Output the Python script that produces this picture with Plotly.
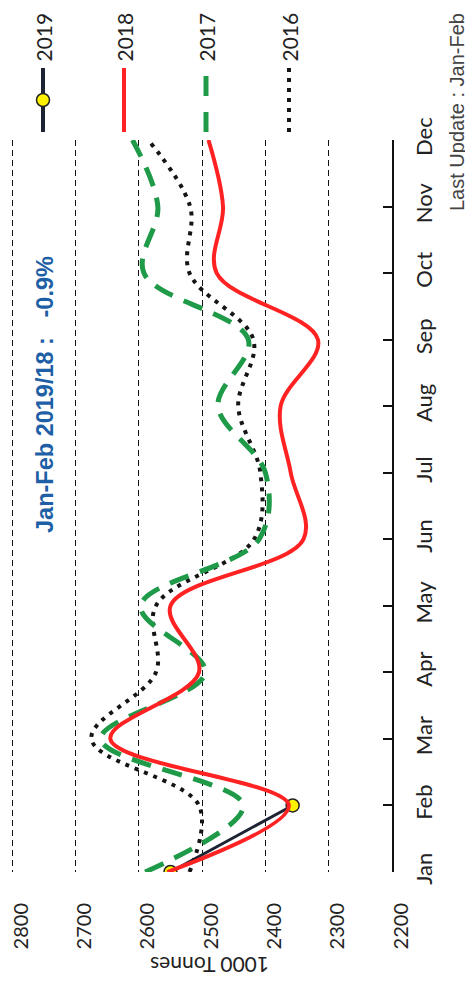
import plotly.graph_objects as go

# ---------------- data ----------------
months = ["Jan", "Feb", "Mar", "Apr", "May", "Jun",
          "Jul", "Aug", "Sep", "Oct", "Nov", "Dec"]
val_2019 = [2550, 2357]
val_2018 = [2555, 2363, 2645, 2505, 2550, 2340, 2360, 2376, 2317, 2477, 2467, 2490]
val_2017 = [2590, 2435, 2660, 2495, 2597, 2410, 2400, 2475, 2427, 2592, 2570, 2610]
val_2016 = [2520, 2505, 2675, 2573, 2573, 2418, 2408, 2443, 2419, 2520, 2519, 2585]
value_ticks = [2200, 2300, 2400, 2500, 2600, 2700, 2800]
legend_years = ["2019", "2018", "2017", "2016"]
summary_text = "Jan-Feb 2019/18 :\u00a0\u00a0\u00a0-0.9%"
update_text = "Last Update : Jan-Feb"
axis_title = "1000 Tonnes"

idx = list(range(len(months)))

# ---------------- styles ----------------
C2019_LINE = "#1d2333"
C2019_MARK = "#FFF200"
C2018 = "#FF2222"
C2017 = "#1E9A48"
C2016 = "#151515"
FONT = "Lato"

OFF = 8                      # page body margin offset (screen -> figure)
W, H = 473 - OFF, 982 - OFF
ML, MT = 11 - OFF, 0
PLOT_RIGHT = 392 - OFF
MR = W - PLOT_RIGHT
PAPER_BOTTOM = 872 - OFF
MB = H - PAPER_BOTTOM
PW = W - ML - MR
PH = H - MT - MB


def px_x(s):
    return (s - OFF - ML) / PW


def px_y(s):
    return (PAPER_BOTTOM - (s - OFF)) / PH


fig = go.Figure()

# series
fig.add_trace(go.Scatter(
    x=val_2019, y=idx[:len(val_2019)], mode="lines+markers",
    line=dict(color=C2019_LINE, width=3),
    marker=dict(size=13, color=C2019_MARK, line=dict(color="#222222", width=1.5)),
    showlegend=False))
fig.add_trace(go.Scatter(
    x=val_2016, y=idx, mode="lines",
    line=dict(color=C2016, width=4, dash="4px,6px", shape="spline", smoothing=1),
    showlegend=False))
fig.add_trace(go.Scatter(
    x=val_2017, y=idx, mode="lines",
    line=dict(color=C2017, width=5, dash="20px,12px", shape="spline", smoothing=1),
    showlegend=False))
fig.add_trace(go.Scatter(
    x=val_2018, y=idx, mode="lines",
    line=dict(color=C2018, width=4, shape="spline", smoothing=1),
    showlegend=False))

# manual (rotated) legend on a hidden axis pair
leg_x = [px_x(43), px_x(124), px_x(206), px_x(289)]
leg_styles = [
    dict(color=C2019_LINE, width=4),
    dict(color=C2018, width=4),
    dict(color=C2017, width=5, dash="20px,16px"),
    dict(color=C2016, width=4, dash="4px,6px"),
]
for xp, st in zip(leg_x, leg_styles):
    fig.add_trace(go.Scatter(x=[xp, xp], y=[0, 1], mode="lines", line=st,
                             xaxis="x2", yaxis="y2", showlegend=False,
                             hoverinfo="skip"))
fig.add_trace(go.Scatter(x=[leg_x[0]], y=[0.5], mode="markers",
                         marker=dict(size=13, color=C2019_MARK,
                                     line=dict(color="#222222", width=1.5)),
                         xaxis="x2", yaxis="y2", showlegend=False,
                         hoverinfo="skip"))

annotations = []
for xp, name in zip(leg_x, legend_years):
    annotations.append(dict(
        x=xp, y=px_y(64), xref="paper", yref="paper", text=name,
        showarrow=False, textangle=-90, xanchor="center", yanchor="bottom",
        font=dict(family=FONT, size=21, color="#222222")))

annotations.append(dict(
    x=px_x(45), y=px_y(395), xref="paper", yref="paper", text="<b>" + summary_text + "</b>",
    showarrow=False, textangle=-90, xanchor="center", yanchor="middle",
    font=dict(family="Liberation Sans", size=23.5, color="#1F5FA6")))

annotations.append(dict(
    x=px_x(457), y=px_y(213), xref="paper", yref="paper", text=update_text,
    showarrow=False, textangle=-90, xanchor="center", yanchor="bottom",
    font=dict(family="Liberation Sans", size=20, color="#444444")))

annotations.append(dict(
    x=px_x(210), y=px_y(966), xref="paper", yref="paper", text=axis_title,
    showarrow=False, textangle=180, xanchor="center", yanchor="middle",
    font=dict(family=FONT, size=21, color="#222222")))

main_top = px_y(140)

fig.update_layout(
    width=W, height=H,
    margin=dict(l=ML, r=MR, t=MT, b=MB, pad=0, autoexpand=False),
    paper_bgcolor="white", plot_bgcolor="white",
    showlegend=False,
    font=dict(family=FONT, color="#222222"),
    xaxis=dict(
        range=[2802, 2200], domain=[0, 1], anchor="y", automargin=False,
        tickvals=value_ticks, ticktext=[str(v) for v in value_ticks],
        tickangle=-90, tickfont=dict(family=FONT, size=20, color="#222222"),
        ticklabeloverflow="allow", ticklabelshift=-9,
        showgrid=True, gridcolor="#111111", gridwidth=1, griddash="6px,4px",
        showline=False, zeroline=False, ticks="", ticklabelstandoff=26,
    ),
    yaxis=dict(
        range=[0, 11], domain=[0, main_top], anchor="x", side="right",
        automargin=False, ticklabeloverflow="allow",
        tickvals=idx, ticktext=months, tickangle=-90,
        tickfont=dict(family=FONT, size=22, color="#222222"),
        showgrid=False, zeroline=False,
        showline=True, linecolor="#111111", linewidth=1.5,
        ticks="inside", ticklen=9, tickwidth=1.5, tickcolor="#111111",
        ticklabelstandoff=12,
    ),
    xaxis2=dict(range=[0, 1], domain=[0, 1], anchor="y2", visible=False),
    yaxis2=dict(range=[0, 1], domain=[px_y(132), px_y(68)], anchor="x2",
                visible=False),
    annotations=annotations,
)

fig.write_html("out.html")
